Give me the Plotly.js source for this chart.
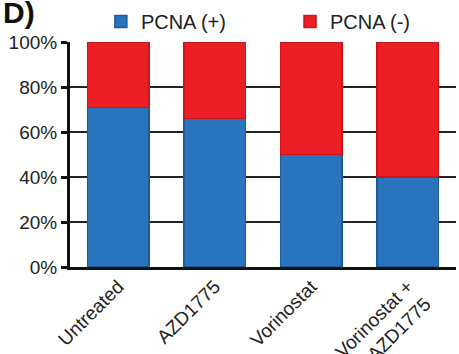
<!DOCTYPE html>
<html>
<head>
<meta charset="utf-8">
<script src="https://cdn.plot.ly/plotly-3.0.1.min.js"></script>
<style>html,body{margin:0;padding:0;background:#fff;}#chart{width:459px;height:354px;}</style>
</head>
<body>
<div id="chart"></div>
<script>
const categories = ["Untreated", "AZD1775", "Vorinostat", "Vorinostat +<br>AZD1775"];
const pcnaPos = [71, 66, 50, 40];
const pcnaNeg = [29, 34, 50, 60];
const seriesNames = ["PCNA (+)", "PCNA (-)"];
const yTickVals = [0, 20, 40, 60, 80, 100];
const yTickText = ["0%", "20%", "40%", "60%", "80%", "100%"];

const traces = [
  {type: "bar", x: categories, y: pcnaPos, name: seriesNames[0], legend: "legend",
   marker: {color: "#2a73bd", line: {color: "#1c5a98", width: 1.5}}},
  {type: "bar", x: categories, y: pcnaNeg, name: seriesNames[1], legend: "legend2",
   marker: {color: "#ec1f26", line: {color: "#c8161c", width: 1.5}}}
];

const legendBase = {orientation: "h", y: 1.0, xanchor: "left", yanchor: "bottom",
  font: {size: 20, color: "#222"}, itemwidth: 30, bgcolor: "rgba(0,0,0,0)",
  tracegroupgap: 0};

const layout = {
  width: 459, height: 354,
  margin: {l: 70, r: 3, t: 41, b: 87},
  barmode: "stack",
  bargap: 0.36,
  paper_bgcolor: "#fff", plot_bgcolor: "#fff",
  font: {family: "Liberation Sans, Arial, sans-serif", color: "#222", size: 19},
  showlegend: true,
  legend: Object.assign({}, legendBase, {x: 0.08}),
  legend2: Object.assign({}, legendBase, {x: 0.57}),
  xaxis: {type: "category", tickangle: -45, showline: true, linecolor: "#111", linewidth: 3,
          ticks: "", tickfont: {size: 19, color: "#222"}, showgrid: false, zeroline: false,
          ticklabelstandoff: -2, range: [-0.5, 3.5]},
  yaxis: {range: [0, 100], tickvals: yTickVals, ticktext: yTickText, showline: true,
          linecolor: "#111", linewidth: 3, ticks: "outside", ticklen: 6, tickwidth: 3,
          tickcolor: "#111", showgrid: true, gridcolor: "#222", gridwidth: 2,
          zeroline: false, tickfont: {size: 19, color: "#222"}},
  annotations: [{text: "<b>D)</b>", xref: "paper", yref: "paper", x: -0.18, y: 1.0,
                 xanchor: "left", yanchor: "bottom", yshift: 11, showarrow: false,
                 font: {size: 30, color: "#111"}}]
};

Plotly.newPlot("chart", traces, layout, {displayModeBar: false, staticPlot: true});
</script>
</body>
</html>
